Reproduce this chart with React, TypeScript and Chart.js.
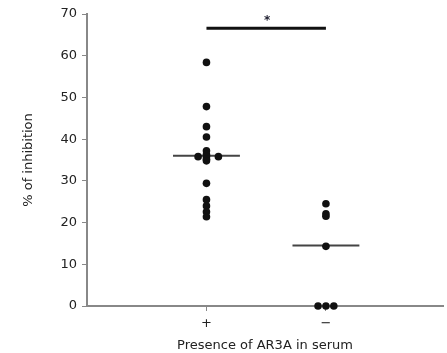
import React, { useEffect, useRef } from "react";
import { Chart, registerables } from "chart.js";

Chart.register(...registerables);

const categoryLabels = ["+", "\u2212"];
const categoryPositions = [1, 2];

const plusValues = [58.4, 47.8, 43, 40.5, 37.2, 36.3, 35.8, 35.2, 34.8, 35.8, 35.8, 29.4, 25.5, 24, 22.6, 21.4];
const plusJitter = [0, 0, 0, 0, 0, 0, 0, 0, 0, -0.07, 0.1, 0, 0, 0, 0, 0];

const minusValues = [24.5, 22.1, 21.5, 14.3, 0, 0, 0];
const minusJitter = [0, 0, 0, 0, -0.066, 0, 0.066];

const medians = [36, 14.5];
const medianHalfWidth = 0.28;

const sigBarFrom = 1;
const sigBarTo = 2;
const sigBarY = 66.6;
const sigLabel = "*";

const yTicks = [0, 10, 20, 30, 40, 50, 60, 70];

const FONT = "'DejaVu Sans', sans-serif";

export default function App() {
  const ref = useRef<HTMLCanvasElement | null>(null);

  useEffect(() => {
    document.body.style.margin = "0";
    const canvas = ref.current;
    if (!canvas) return;

    const pts = (vals: number[], jit: number[], cx: number) =>
      vals.map((v, i) => ({ x: cx + jit[i], y: v }));

    const medianLine = (i: number) => [
      { x: categoryPositions[i] - medianHalfWidth, y: medians[i] },
      { x: categoryPositions[i] + medianHalfWidth, y: medians[i] },
    ];

    const starPlugin = {
      id: "starLabel",
      afterDatasetsDraw(chart: any) {
        const { ctx, scales } = chart;
        const x = scales.x.getPixelForValue((sigBarFrom + sigBarTo) / 2);
        const y = scales.y.getPixelForValue(sigBarY);
        ctx.save();
        ctx.fillStyle = "#223";
        ctx.font = `bold 12px ${FONT}`;
        ctx.textAlign = "center";
        ctx.textBaseline = "bottom";
        ctx.fillText(sigLabel, x + 1, y - 1);
        ctx.restore();
      },
    };

    const chart = new Chart(canvas, {
      type: "scatter",
      data: {
        datasets: [
          {
            data: pts(plusValues, plusJitter, categoryPositions[0]),
            backgroundColor: "#111",
            borderWidth: 0,
            pointRadius: 3.8,
            clip: false,
          } as any,
          {
            data: pts(minusValues, minusJitter, categoryPositions[1]),
            backgroundColor: "#111",
            borderWidth: 0,
            pointRadius: 3.8,
            clip: false,
          } as any,
          {
            type: "line",
            data: medianLine(0),
            borderColor: "#444",
            borderWidth: 2,
            pointRadius: 0,
            showLine: true,
          } as any,
          {
            type: "line",
            data: medianLine(1),
            borderColor: "#444",
            borderWidth: 2,
            pointRadius: 0,
            showLine: true,
          } as any,
          {
            type: "line",
            data: [
              { x: sigBarFrom, y: sigBarY },
              { x: sigBarTo, y: sigBarY },
            ],
            borderColor: "#111",
            borderWidth: 3,
            pointRadius: 0,
            showLine: true,
            clip: false,
          } as any,
        ],
      },
      options: {
        animation: false,
        responsive: false,
        maintainAspectRatio: false,
        layout: { padding: { top: 14, right: 0, bottom: 0, left: 0 } },
        plugins: {
          legend: { display: false },
          tooltip: { enabled: false },
        },
        scales: {
          x: {
            type: "linear",
            min: 0,
            max: 2.98,
            afterBuildTicks: (scale: any) => {
              scale.ticks = categoryPositions.map((v) => ({ value: v }));
            },
            afterFit: (scale: any) => {
              scale.height = 47;
            },
            ticks: {
              autoSkip: false,
              maxRotation: 0,
              padding: 5,
              color: "#222",
              font: { family: FONT, size: 13 },
              callback: (v: any) => {
                const i = categoryPositions.indexOf(Number(v));
                return i >= 0 ? categoryLabels[i] : "";
              },
            },
            grid: {
              display: true,
              drawOnChartArea: false,
              drawTicks: true,
              tickLength: 5,
              color: "#888",
              lineWidth: 1,
            },
            border: { display: true, color: "#888", width: 2 },
            title: {
              display: true,
              text: "Presence of AR3A in serum",
              color: "#222",
              font: { family: FONT, size: 13 },
              padding: { top: 4, bottom: 0 },
            },
          },
          y: {
            type: "linear",
            min: 0,
            max: 70,
            afterBuildTicks: (scale: any) => {
              scale.ticks = yTicks.map((v) => ({ value: v }));
            },
            afterFit: (scale: any) => {
              scale.width = 87;
            },
            ticks: {
              padding: 5,
              color: "#222",
              font: { family: FONT, size: 13 },
            },
            grid: {
              display: true,
              drawOnChartArea: false,
              drawTicks: true,
              tickLength: 5,
              color: "#888",
              lineWidth: 1,
            },
            border: { display: true, color: "#888", width: 2 },
            title: {
              display: true,
              text: "% of inhibition",
              color: "#222",
              font: { family: FONT, size: 13 },
              padding: { top: 21, bottom: 0 },
            },
          },
        },
      },
      plugins: [starPlugin],
    });

    return () => chart.destroy();
  }, []);

  return (
    <div style={{ width: 447, height: 353 }}>
      <canvas ref={ref} width={447} height={353} style={{ display: "block" }} />
    </div>
  );
}
